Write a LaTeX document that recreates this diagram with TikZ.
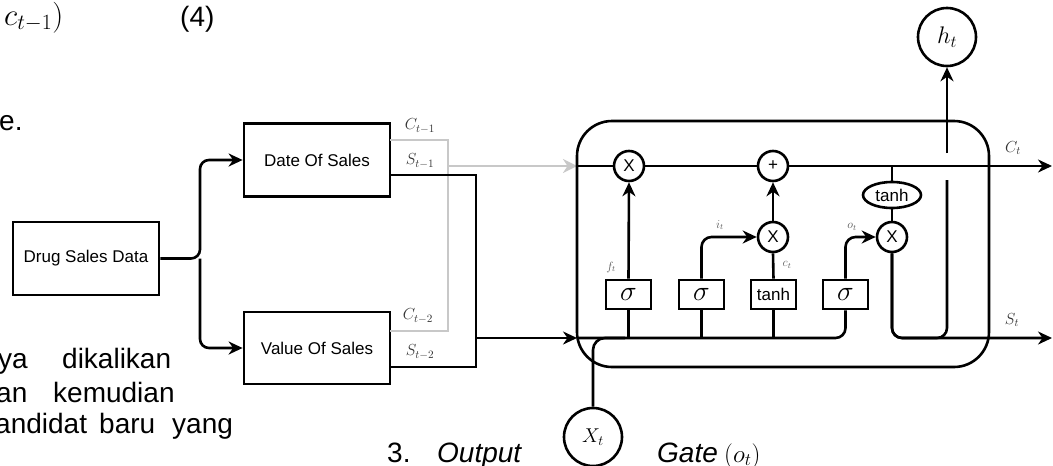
\RequirePackage{fix-cm}
\documentclass[tikz,border=0pt]{standalone}
\usepackage{fontspec}
\setmainfont{Liberation Sans}
\usetikzlibrary{arrows.meta,shapes.geometric}
\definecolor{gcol}{RGB}{200,200,200}
\begin{document}
\begin{tikzpicture}[x=1pt,y=-1pt,
  line/.style={line width=2.6pt, draw=black},
  gline/.style={line width=2.6pt, draw=gcol},
  arr/.style={-{Stealth[length=14pt,width=13pt,inset=4.5pt]}},
  garr/.style={-{Stealth[length=14pt,width=14pt,inset=4.5pt,color=gcol]}},
  box/.style={draw, line width=2.8pt, minimum width=146pt, minimum height=73pt, inner sep=0pt, font=\fontsize{17}{20}\selectfont},
  gate/.style={draw, line width=2.6pt, minimum width=45pt, minimum height=29pt, inner sep=0pt, fill=white},
  op/.style={circle, draw, line width=2.6pt, minimum size=30pt, inner sep=0pt, fill=white, font=\fontsize{17}{17}\selectfont},
  big/.style={circle, draw, line width=2.6pt, minimum size=58pt, inner sep=0pt, fill=white},
  lbl/.style={font=\fontsize{16}{16}\selectfont, text=black!80, inner sep=0pt},
  small/.style={font=\fontsize{12}{12}\selectfont, text=black!65, inner sep=0pt},
  page/.style={font=\fontsize{28}{34}\selectfont, inner sep=0pt, anchor=base west}]
\useasboundingbox (0,0) rectangle (1053,466);

% page text fragments
\node[page, font=\fontsize{31}{34}\selectfont] (p1) at (4,25) {$c_{t-1})$};
\node[page] (p2) at (180,26) {(4)};
\node[page] (p3) at (-1,130) {e.};
\node[page] (p4) at (-2,368) {ya};
\node[page] (p5) at (62,368) {dikalikan};
\node[page] (p6) at (-4,402) {an};
\node[page] (p7) at (53,402) {kemudian};
\node[page] (p8) at (-5,433) {andidat};
\node[page] (p9) at (99,433) {baru};
\node[page] (p10) at (172,433) {yang};
\node[page] (p11) at (387,462) {3.};
\node[page] (p12) at (437,462) {\itshape Output};
\node[page] (p13) at (657,462) {\itshape Gate};
\node[page, font=\fontsize{25}{28}\selectfont] (p14) at (724,462) {$(o_t)$};

% left boxes
\node[box] (dsd) at (86,258.5) {Drug Sales Data};
\node[box] (dos) at (317,160) {Date Of Sales};
\node[box, minimum height=72pt] (vos) at (317,348) {Value Of Sales};

\coordinate (split) at (200,258.5);
\draw[line, rounded corners=9, arr] (dsd.east) -- (split) |- (dos.west);
\draw[line, rounded corners=9, arr] (split) |- (vos.west);

% outputs of the boxes
\coordinate (c1out) at (390,140);
\coordinate (s1out) at (390,175);
\coordinate (c2in) at (390,331);
\coordinate (s2in) at (390,367);
\coordinate (gsplit) at (448,166);
\coordinate (bsplit) at (476,338);
\coordinate (cellC) at (577,166);
\coordinate (cellS) at (577,338);

\draw[gline] (c1out) -- (448,140) -- (448,331) -- (c2in);
\draw[gline, garr] (gsplit) -- (cellC);
\draw[line] (s1out) -- (476,175) -- (476,367) -- (s2in);
\draw[line, arr] (bsplit) -- (cellS);

\node[lbl] (lc1) at (420,126) {$C_{t-1}$};
\node[lbl] (ls1) at (420,161) {$S_{t-1}$};
\node[lbl] (lc2) at (418,316) {$C_{t-2}$};
\node[lbl] (ls2) at (420,352) {$S_{t-2}$};

% LSTM cell
\draw[line, rounded corners=35] (577,121) rectangle (989,367);

\node[op] (mulf) at (629,166) {X};
\node[op] (add) at (773,166) {+};
\node[op] (muli) at (773,237) {X};
\node[op] (mulo) at (892,237) {X};
\node[gate, font=\fontsize{28}{28}\selectfont] (sigf) at (628.5,294.5) {$\sigma$};
\node[gate, font=\fontsize{28}{28}\selectfont] (sigi) at (701.5,294.5) {$\sigma$};
\node[gate, font=\fontsize{17}{17}\selectfont] (tanhc) at (773.5,294.5) {tanh};
\node[gate, font=\fontsize{28}{28}\selectfont] (sigo) at (845.5,294.5) {$\sigma$};
\node[ellipse, draw, line width=2.6pt, minimum width=58pt, minimum height=26pt, inner sep=0pt, font=\fontsize{17}{17}\selectfont] (tanho) at (892,195) {tanh};
\node[big, font=\fontsize{24}{24}\selectfont] (ht) at (947,37) {$h_t$};
\node[big, font=\fontsize{20}{20}\selectfont] (xt) at (593,437) {$X_t$};

\coordinate (cout) at (1052,166);
\coordinate (sout) at (1052,338);
\coordinate (ctap) at (892,166);
\coordinate (hjoin) at (947,338);
\coordinate (hgap1) at (947,180);
\coordinate (hgap2) at (947,153);
\coordinate (xjoin) at (625,338);

% cell state line
\draw[line] (cellC) -- (mulf);
\draw[line] (mulf) -- (add);
\draw[line, arr] (add) -- (cout);
\draw[line] (ctap) -- (tanho.north);
\draw[line] (tanho.south) -- (mulo.north);

% hidden input line and gates
\draw[line, rounded corners=10] (cellS) -| (sigo.south);
\draw[line] (sigf.south) -- (sigf.south |- cellS);
\draw[line] (sigi.south) -- (sigi.south |- cellS);
\draw[line] (tanhc.south) -- (tanhc.south |- cellS);
\draw[line, rounded corners=12] (xt.north) |- (xjoin);

\draw[line, arr] (sigf.north) -- (mulf.south);
\draw[line, arr, rounded corners=10] (sigi.north) |- (muli.west);
\draw[line] (tanhc.north) -- (muli.south);
\draw[line, arr] (muli.north) -- (add.south);
\draw[line, arr, rounded corners=10] (sigo.north) |- (mulo.west);

% outputs
\draw[line, arr, rounded corners=10] (mulo.south) |- (sout);
\draw[line, rounded corners=10] (mulo.south) |- (hjoin) -- (hgap1);
\draw[line, arr] (hgap2) -- (ht.south);

\node[small] (lf) at (611,267) {$f_t$};
\node[small] (li) at (720,225) {$i_t$};
\node[small] (lcc) at (787,265) {$c_t$};
\node[small] (lo) at (852,227) {$o_t$};
\node[lbl] (lct) at (1013,148) {$C_t$};
\node[lbl] (lst) at (1012,320) {$S_t$};
\end{tikzpicture}
\end{document}
